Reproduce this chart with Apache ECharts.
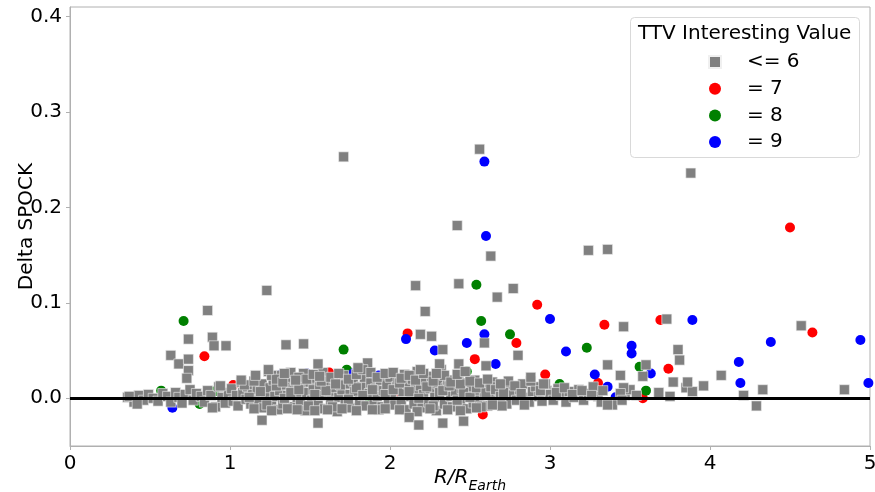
<!DOCTYPE html>
<html>
<head>
<meta charset="utf-8">
<script src="https://cdn.jsdelivr.net/npm/echarts@6/dist/echarts.min.js"></script>
<style>html,body{margin:0;padding:0;background:#fff}#c{width:875px;height:492px}</style>
</head>
<body>
<div id="c"></div>
<script>
const xTicks = [0, 1, 2, 3, 4, 5];
const yTicks = [0.0, 0.1, 0.2, 0.3, 0.4];
const seriesNames = ['<= 6', '= 7', '= 8', '= 9'];

const greyPoints = [
  [0.36,0.001],[0.40,-0.004],[0.43,0.003],[0.46,-0.002],[0.49,0.004],[0.52,0.000],[0.55,-0.003],[0.58,0.005],[0.61,0.002],[0.63,-0.004],
  [0.66,0.006],[0.68,0.001],[0.70,-0.005],[0.72,0.004],[0.75,0.009],[0.77,-0.002],[0.79,0.005],[0.82,0.002],[0.84,-0.004],[0.86,0.008],
  [0.88,0.003],[0.91,-0.009],[0.93,0.012],[0.95,0.001],[0.97,-0.005],[0.99,0.006],
  [1.01,0.010],[1.02,-0.003],[1.04,0.003],[1.05,-0.008],[1.07,0.017],[1.08,0.006],[1.10,-0.001],[1.11,0.012],[1.13,-0.006],[1.14,0.004],
  [1.16,0.022],[1.17,0.009],[1.18,-0.002],[1.20,0.015],[1.21,-0.010],[1.22,0.005],[1.24,0.028],[1.25,0.011],[1.26,-0.004],[1.27,0.019],
  [1.28,0.002],[1.30,-0.012],[1.31,0.008],[1.32,0.024],[1.33,-0.006],[1.35,0.014],[1.36,0.003],[1.37,0.022],[1.39,-0.009],[1.40,0.010],
  [1.41,0.018],[1.42,0.001],[1.44,-0.004],[1.45,0.013],[1.46,0.026],[1.47,-0.013],[1.48,0.006],[1.50,0.017],[1.51,-0.002],[1.52,0.009],
  [1.54,0.021],[1.55,-0.007],[1.56,0.012],[1.57,0.003],[1.58,0.027],[1.59,-0.011],[1.61,0.016],[1.62,0.005],[1.63,-0.003],[1.65,0.011],
  [1.66,0.020],[1.67,-0.014],[1.68,0.001],[1.70,0.009],[1.71,0.024],[1.72,-0.006],[1.73,0.015],[1.75,0.004],[1.76,-0.010],[1.77,0.018],
  [1.78,0.007],[1.80,0.031],[1.81,-0.003],[1.82,0.012],[1.84,0.022],[1.85,-0.008],[1.86,0.037],[1.87,0.005],[1.88,0.016],[1.90,-0.005],
  [1.91,0.010],[1.92,0.002],[1.94,0.019],[1.95,-0.009],[1.96,0.008],[1.98,0.014],[1.99,-0.002],
  [2.00,0.022],[2.01,0.004],[2.03,-0.007],[2.04,0.012],[2.05,0.018],[2.07,-0.003],[2.08,0.007],[2.09,0.025],[2.10,-0.012],[2.11,0.015],
  [2.13,0.002],[2.14,0.020],[2.15,-0.006],[2.16,0.009],[2.17,0.028],[2.19,0.013],[2.20,-0.010],[2.21,0.004],[2.22,0.019],[2.24,-0.004],
  [2.25,0.010],[2.26,0.023],[2.28,0.001],[2.29,-0.013],[2.30,0.015],[2.31,0.006],[2.32,0.030],[2.34,-0.006],[2.35,0.011],[2.36,0.019],
  [2.38,0.002],[2.39,-0.009],[2.40,0.014],[2.41,0.007],[2.43,0.021],[2.44,-0.003],[2.45,0.010],[2.47,0.016],[2.48,-0.011],[2.49,0.004],
  [2.51,0.012],[2.52,-0.005],[2.53,0.019],[2.55,0.007],[2.56,-0.002],[2.58,0.013],[2.59,0.003],[2.61,-0.008],[2.62,0.010],[2.64,0.017],
  [2.65,0.002],[2.67,-0.004],[2.68,0.008],[2.70,0.014],[2.72,0.000],[2.73,-0.006],[2.75,0.011],[2.77,0.004],[2.79,-0.002],[2.81,0.009],
  [2.83,0.015],[2.85,0.001],[2.87,-0.004],[2.89,0.007],[2.91,0.012],[2.93,0.002],[2.95,-0.003],[2.98,0.008],[3.00,0.004],[3.02,-0.002],
  [3.05,0.010],[3.07,0.003],[3.10,-0.004],[3.12,0.007],[3.15,0.001],[3.18,0.009],[3.21,-0.002],[3.24,0.005],[3.27,0.012],[3.30,0.002],
  [3.33,0.008],[3.47,0.003],[3.50,0.009],
  [1.12,0.001],[1.19,0.007],[1.23,-0.007],[1.29,0.013],[1.34,0.000],[1.38,0.006],[1.43,0.009],[1.49,-0.008],[1.53,0.004],[1.60,0.008],
  [1.64,-0.009],[1.69,0.014],[1.74,-0.001],[1.79,0.011],[1.83,0.003],[1.89,0.009],[1.93,-0.012],[1.97,0.004],[2.02,0.009],[2.06,0.016],
  [2.12,0.007],[2.18,0.000],[2.23,0.012],[2.27,-0.008],[2.33,0.008],[2.37,0.013],[2.42,-0.002],[2.46,0.006],[2.50,0.001],[2.54,0.011],
  [2.57,-0.009],[2.60,0.006],[2.63,0.012],[2.66,0.009],[2.69,0.002],[2.71,0.006],[2.74,0.018],[2.78,0.013],[2.82,0.005],[2.88,0.018],
  [2.94,0.008],[2.97,0.015],[3.04,0.006],[3.09,0.011],[3.14,0.004],[3.20,0.008],[3.26,0.003],[3.32,-0.004],
  [1.09,0.014],[1.15,0.018],[1.26,0.024],[1.29,0.020],[1.33,0.017],[1.38,0.027],[1.43,0.022],[1.48,0.020],[1.52,0.025],[1.57,0.018],
  [1.63,0.022],[1.68,0.026],[1.74,0.020],[1.79,0.025],[1.83,0.030],[1.88,0.027],[1.92,0.022],[1.97,0.026],[2.02,0.027],[2.07,0.021],
  [2.12,0.024],[2.16,0.019],[2.21,0.026],[2.27,0.018],[2.34,0.024],[2.38,0.017],[2.44,0.015],[2.50,0.018],[2.56,0.016],[2.61,0.020],
  [1.15,-0.011],[1.26,-0.013],[1.36,-0.011],[1.42,-0.012],[1.53,-0.013],[1.61,-0.012],[1.70,-0.011],[1.79,-0.013],[1.97,-0.011],[2.06,-0.012],
  [2.17,-0.014],[2.25,-0.011],[2.36,-0.012],[2.44,-0.013],[2.54,-0.010],[2.70,-0.008],[2.84,-0.007],
  [1.71,0.253],[2.56,0.261],[3.88,0.236],[1.23,0.113],[2.42,0.181],[3.24,0.155],[3.36,0.156],[2.63,0.149],[2.16,0.118],[2.43,0.120],
  [2.77,0.115],[2.67,0.106],[2.22,0.091],[3.46,0.075],[3.73,0.083],[1.35,0.056],[1.46,0.057],[2.19,0.067],[2.26,0.065],[2.33,0.051],
  [0.86,0.092],[0.74,0.062],[0.89,0.064],[0.90,0.055],[0.975,0.055],[0.63,0.045],[0.68,0.036],[0.74,0.041],[0.74,0.029],[0.73,0.021],
  [1.55,0.036],[1.20,-0.023],[1.55,-0.026],[2.59,0.058],[2.60,0.034],[2.80,0.045],[2.19,0.030],[2.31,0.036],[2.29,0.026],[2.43,0.036],
  [2.42,0.025],[2.47,0.028],[3.36,0.035],[3.80,0.051],[3.81,0.040],[3.60,0.035],[3.58,0.023],[3.44,0.024],[4.07,0.024],[3.77,0.017],
  [3.96,0.013],[3.85,0.011],[3.89,0.007],[3.68,0.006],[3.75,0.002],[3.54,0.003],[4.33,0.009],[4.21,0.003],[4.29,-0.008],[4.84,0.009],
  [4.57,0.076],[3.46,0.011],[3.44,0.005],[3.39,-0.007],[3.45,-0.002],[2.12,-0.020],[2.18,-0.028],[2.33,-0.026],[2.46,-0.024],[1.89,-0.012],
  [2.88,0.022],[2.96,0.015],[2.69,0.015],[3.36,-0.007],[2.64,-0.007],[1.80,0.032],[1.24,0.030],[1.16,0.024],[1.07,0.019],[1.34,0.026],
  [1.41,0.019],[1.56,0.023],[1.66,0.015],[0.37,0.002],[0.42,-0.006],[0.94,0.013],[0.89,-0.010],[3.86,0.017]
];

const redPoints = [
  [0.84,0.044],[0.71,0.002],[1.02,0.014],[1.34,0.002],[1.43,0.018],[1.62,0.027],[2.11,0.068],[1.80,0.009],[1.93,0.007],[2.03,0.000],
  [2.23,0.015],[2.29,0.016],[2.52,0.008],[2.53,0.041],[2.58,-0.017],[2.63,0.015],[2.73,0.001],[2.77,0.010],[2.79,0.058],[2.92,0.098],
  [2.97,0.025],[3.30,0.016],[3.34,0.077],[3.69,0.082],[3.74,0.031],[3.58,0.000],[4.50,0.179],[4.64,0.069]
];

const greenPoints = [
  [0.71,0.081],[0.57,0.008],[0.81,-0.006],[0.90,0.007],[1.71,0.051],[1.73,0.030],[1.83,0.009],[1.87,0.000],[2.54,0.119],[2.57,0.081],
  [2.75,0.067],[2.48,0.028],[3.06,0.015],[3.23,0.053],[3.26,0.006],[3.56,0.033],[3.60,0.008]
];

const bluePoints = [
  [0.64,-0.010],[1.32,0.025],[1.48,0.026],[1.77,0.026],[1.90,0.018],[1.93,0.024],[2.10,0.062],[2.28,0.050],[2.48,0.058],[2.59,0.067],
  [2.59,0.248],[2.60,0.170],[2.66,0.036],[2.74,-0.001],[3.00,0.083],[3.10,0.049],[3.28,0.025],[3.36,0.012],[3.41,0.001],[3.51,0.055],
  [3.51,0.047],[3.63,0.026],[3.89,0.082],[4.18,0.038],[4.19,0.016],[4.38,0.059],[4.94,0.061],[4.99,0.016]
];

const FONT = 'DejaVu Sans';
const spine = '#b0b0b0';
const chart = echarts.init(document.getElementById('c'));
chart.setOption({
  animation: false,
  backgroundColor: '#fff',
  textStyle: {fontFamily: FONT},
  grid: {left: 70, right: 5, top: 7, bottom: 46, show: true, borderColor: spine, borderWidth: 1,
         backgroundColor: 'transparent', containLabel: false, outerBoundsMode: 'none'},
  xAxis: {
    type: 'value', min: 0, max: 5, interval: 1,
    axisLabel: {customValues: xTicks, fontSize: 20, color: '#000', fontFamily: FONT, margin: 8},
    axisTick: {customValues: xTicks, length: 4, lineStyle: {color: spine}},
    axisLine: {onZero: false, lineStyle: {color: spine, width: 1}},
    splitLine: {show: false},
    name: '{i|R/R}{s|Earth}',
    nameLocation: 'middle', nameGap: 17, nameMoveOverlap: false,
    nameTextStyle: {
      rich: {
        i: {fontSize: 20, fontStyle: 'italic', fontFamily: FONT, color: '#000', lineHeight: 30, verticalAlign: 'middle'},
        s: {fontSize: 14, fontStyle: 'italic', fontFamily: FONT, color: '#000', lineHeight: 14, verticalAlign: 'bottom'}
      }
    }
  },
  yAxis: {
    type: 'value', min: -0.05, max: 0.41,
    axisLabel: {customValues: yTicks, fontSize: 20, color: '#000', fontFamily: FONT, margin: 8,
      formatter: v => v.toFixed(1)},
    axisTick: {customValues: yTicks, length: 4, lineStyle: {color: spine}},
    axisLine: {onZero: false, lineStyle: {color: spine, width: 1}},
    splitLine: {show: false},
    name: 'Delta SPOCK', nameLocation: 'middle', nameGap: 33, nameMoveOverlap: false,
    nameTextStyle: {fontSize: 20, color: '#000', fontFamily: FONT}
  },
  legend: {
    data: [
      {name: seriesNames[0], icon: 'rect'},
      {name: seriesNames[1], icon: 'circle'},
      {name: seriesNames[2], icon: 'circle'},
      {name: seriesNames[3], icon: 'circle'}
    ],
    orient: 'vertical', left: 703, top: 47, z: 100,
    itemWidth: 12, itemHeight: 12, itemGap: 6.7,
    textStyle: {fontSize: 20, color: '#000', fontFamily: FONT, lineHeight: 20, padding: [0, 0, 0, 21]},
    selectedMode: false
  },
  graphic: [
    {type: 'rect', left: 630, top: 17, z: 90, shape: {width: 229, height: 140, r: 4},
     style: {fill: 'rgba(255,255,255,0.8)', stroke: '#d9d9d9', lineWidth: 1}},
    {type: 'text', left: 638, top: 24, z: 91,
     style: {text: 'TTV Interesting Value', font: '20px "DejaVu Sans"', fill: '#000'}}
  ],
  series: [
    {name: seriesNames[1], type: 'scatter', symbol: 'circle', symbolSize: 10, z: 2,
     itemStyle: {color: '#ff0000', opacity: 1}, data: redPoints},
    {name: seriesNames[2], type: 'scatter', symbol: 'circle', symbolSize: 10, z: 2,
     itemStyle: {color: '#008000', opacity: 1}, data: greenPoints},
    {name: seriesNames[3], type: 'scatter', symbol: 'circle', symbolSize: 10, z: 2,
     itemStyle: {color: '#0000ff', opacity: 1}, data: bluePoints},
    {name: seriesNames[0], type: 'scatter', symbol: 'rect', symbolSize: 10, z: 3,
     itemStyle: {color: '#808080', opacity: 1, borderColor: '#f0f0f0', borderWidth: 0.6}, data: greyPoints},
    {name: 'zero', type: 'line', data: [], z: 5,
     markLine: {silent: true, symbol: 'none', label: {show: false},
       lineStyle: {color: '#000', width: 3, type: 'solid'}, data: [{yAxis: 0}]}}
  ]
});
</script>
</body>
</html>
